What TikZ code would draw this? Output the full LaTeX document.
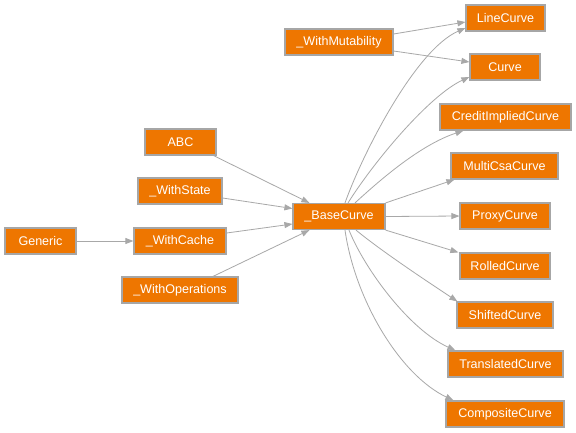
\documentclass[tikz,border=0pt]{standalone}
\usepackage{fontspec}
\setmainfont{Liberation Sans}
\usetikzlibrary{arrows.meta}
\definecolor{boxfill}{HTML}{EE7600}
\definecolor{boxline}{HTML}{A6A6A6}
\definecolor{edgecol}{HTML}{A8A8A8}
\tikzset{
  cls/.style={draw=boxline, line width=1.2bp, fill=boxfill, text=white,
    minimum height=26bp, inner sep=0pt, font=\fontsize{12.6}{14}\selectfont},
  edge/.style={draw=edgecol, line width=0.8bp,
    -{Triangle[length=8bp,width=6bp,fill=edgecol]}}
}
\begin{document}
\begin{tikzpicture}[x=1bp,y=-1bp]
\useasboundingbox[fill=white] (0,0) rectangle (576,432);
% nodes
\node[cls, minimum width=79bp] (line) at (505.5,18) {LineCurve};
\node[cls, minimum width=70bp] (curve) at (505,67) {Curve};
\node[cls, minimum width=108bp] (mut) at (339,42) {\_WithMutability};
\node[cls, minimum width=131bp] (credit) at (505.5,117) {CreditImpliedCurve};
\node[cls, minimum width=107bp] (multi) at (504.5,166) {MultiCsaCurve};
\node[cls, minimum width=90bp] (proxy) at (505,216) {ProxyCurve};
\node[cls, minimum width=90bp] (rolled) at (505,266) {RolledCurve};
\node[cls, minimum width=96bp] (shifted) at (505,315) {ShiftedCurve};
\node[cls, minimum width=115bp] (transl) at (505.5,364) {TranslatedCurve};
\node[cls, minimum width=118bp] (comp) at (505,414) {CompositeCurve};
\node[cls, minimum width=71bp] (abc) at (180.5,142) {ABC};
\node[cls, minimum width=84bp] (state) at (180,191) {\_WithState};
\node[cls, minimum width=92bp] (base) at (339,216.5) {\_BaseCurve};
\node[cls, minimum width=71bp] (generic) at (40.5,241) {Generic};
\node[cls, minimum width=92bp] (cache) at (180,241) {\_WithCache};
\node[cls, minimum width=116bp] (ops) at (180,290) {\_WithOperations};
% left side edges
\draw[edge] (generic.east) -- (cache.west);
\draw[edge] ([xshift=-3bp]abc.south east) -- ([xshift=17bp]base.north west);
\draw[edge] ([yshift=-7bp]state.east) -- ([yshift=8bp]base.west);
\draw[edge] ([yshift=8bp]cache.east) -- ([yshift=-7.5bp]base.west);
\draw[edge] ([xshift=33bp]ops.north) -- ([xshift=17bp]base.south west);
% mutability
\draw[edge] ([yshift=8bp]mut.east) -- ([yshift=-4bp]line.west);
\draw[edge] ([yshift=-9bp]mut.east) -- ([yshift=5bp]curve.west);
% base fan out
\draw[edge] ([xshift=6bp]base.north) .. controls (362,155) and (415,50) .. ([yshift=-10bp]line.west);
\draw[edge] ([xshift=9bp]base.north) .. controls (375,160) and (430,95) .. ([yshift=-10bp]curve.west);
\draw[edge] ([xshift=16bp]base.north) .. controls (380,180) and (420,145) .. ([xshift=24bp]credit.south west);
\draw[edge] (base.north east) -- ([xshift=4bp]multi.south west);
\draw[edge] (base.east) -- (proxy.west);
\draw[edge] (base.south east) -- ([xshift=-1bp]rolled.north west);
\draw[edge] ([xshift=17bp]base.south) .. controls (380,250) and (425,280) .. ([xshift=1bp]shifted.north west);
\draw[edge] ([xshift=10bp]base.south) .. controls (365,270) and (410,330) .. ([xshift=8bp]transl.north west);
\draw[edge] ([xshift=6bp]base.south) .. controls (355,300) and (400,375) .. ([xshift=8bp]comp.north west);
\end{tikzpicture}
\end{document}
